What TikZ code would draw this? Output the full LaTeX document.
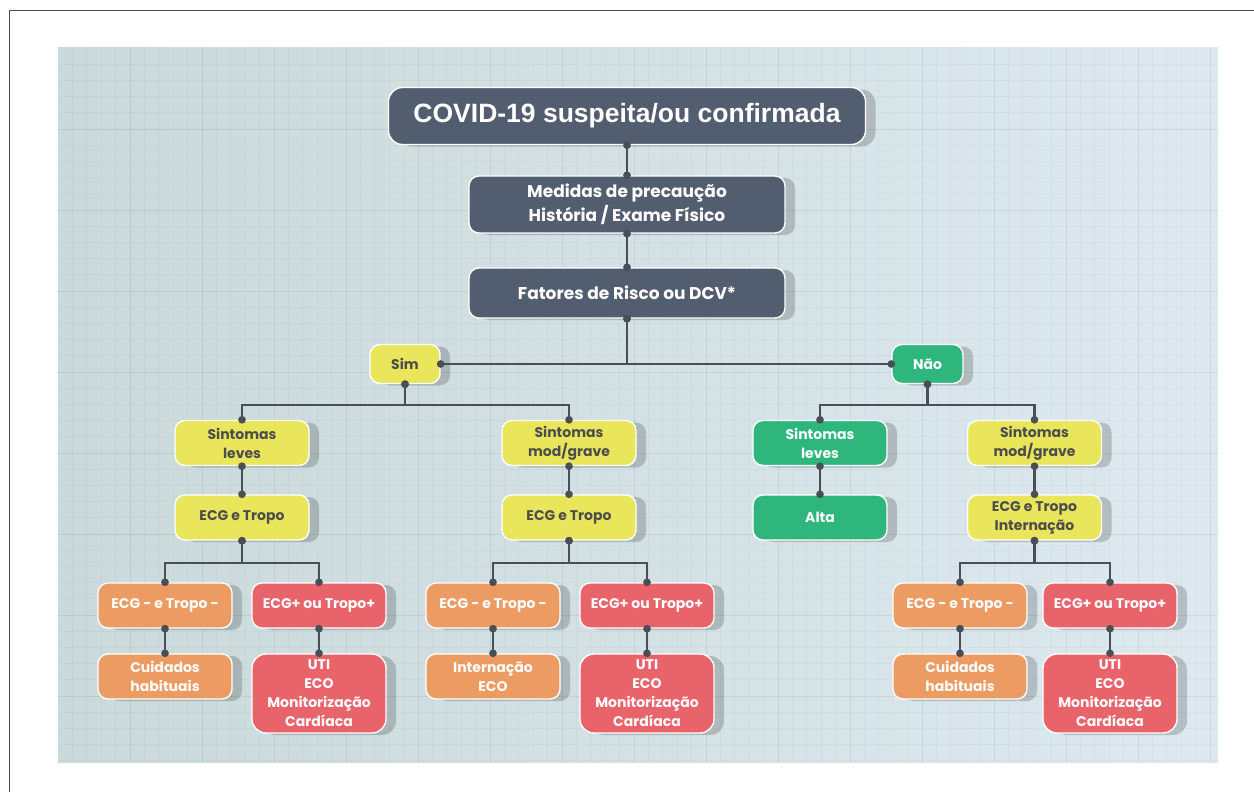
\documentclass[tikz,border=0pt]{standalone}
\usepackage{fontspec}
\setmainfont{Poppins}
\newfontfamily\titlefont{Liberation Sans}
\usetikzlibrary{arrows.meta,shadows}

\definecolor{slate}{HTML}{525E70}
\definecolor{limeyel}{HTML}{E9E65C}
\definecolor{mint}{HTML}{2EB67D}
\definecolor{peach}{HTML}{EC9B63}
\definecolor{coral}{HTML}{E9636B}
\definecolor{wire}{HTML}{4A4F57}
\definecolor{darktext}{HTML}{4D4D4D}
\definecolor{panelL}{HTML}{CAD9DA}
\definecolor{panelR}{HTML}{DDE9EF}

\tikzset{
  box/.style={draw=white, line width=1.4pt, rounded corners=10pt, align=center,
    inner sep=0pt, text=white, font=\fontsize{14}{19}\selectfont\bfseries,
    minimum width=134pt, minimum height=45pt,
    drop shadow={shadow xshift=10pt, shadow yshift=-2pt, opacity=0.18, fill=black}},
  headbox/.style={box, fill=slate, minimum width=316pt, font=\fontsize{17}{24}\selectfont\bfseries},
  yesbox/.style={box, fill=limeyel, text=darktext},
  nobox/.style={box, fill=mint},
  negbox/.style={box, fill=peach},
  posbox/.style={box, fill=coral},
  link/.style={draw=wire, line width=2.4pt,
    {Circle[length=7.5pt]}-{Circle[length=7.5pt]},
    shorten <=-3.75pt, shorten >=-3.75pt},
  minorline/.style={black, opacity=0.025, line width=0.8pt},
  majorline/.style={black, opacity=0.045, line width=1pt},
}

\begin{document}
\begin{tikzpicture}[x=1pt,y=-1pt]
  \useasboundingbox (0,0) rectangle (1254,792);
  % frame and panel
  \draw[black!70, line width=1pt] (9.5,792) -- (9.5,11) -- (1254,11);
  \shade[left color=panelL, right color=panelR] (58,48) rectangle (1218,762);
  % grid
  \foreach \i in {1,...,80} {
    \draw[minorline] ({58+14.4*\i},48) -- ({58+14.4*\i},762);
  }
  \foreach \i in {1,...,44} {
    \draw[minorline] (58,{48+16.2*\i}) -- (1218,{48+16.2*\i});
  }
  \foreach \i in {1,...,16} {
    \draw[majorline] ({58+72*\i},48) -- ({58+72*\i},762);
  }
  \foreach \i in {1,...,8} {
    \draw[majorline] (58,{48+81*\i}) -- (1218,{48+81*\i});
  }

  % top of the chart
  \node[box, fill=slate, minimum width=477pt, minimum height=57pt, rounded corners=14pt,
    font=\titlefont\fontsize{26.5}{30}\selectfont\bfseries] (covid) at (627,116) {COVID-19 suspeita/ou confirmada};
  \node[headbox, minimum height=57pt] (medidas) at (627,204.5) {Medidas de precaução\\História / Exame Físico};
  \node[headbox, minimum height=50pt] (fatores) at (627,293) {Fatores de Risco ou DCV*};
  \node[yesbox, minimum width=70pt, minimum height=39pt] (sim) at (405,364) {Sim};
  \node[nobox, minimum width=71pt, minimum height=39pt] (nao) at (927.5,364) {Não};

  % Sim side
  \node[yesbox] (simLeves) at (242,443) {Sintomas\\leves};
  \node[yesbox] (simGrave) at (569,443) {Sintomas\\mod/grave};
  \node[yesbox] (simLevesEcg) at (242,517.5) {ECG e Tropo};
  \node[yesbox] (simGraveEcg) at (569,517.5) {ECG e Tropo};
  \node[negbox] (lNeg) at (165,605.5) {ECG - e Tropo -};
  \node[posbox] (lPos) at (319,605.5) {ECG+ ou Tropo+};
  \node[negbox] (lCuid) at (165,676.5) {Cuidados\\habituais};
  \node[posbox, minimum height=79pt, rounded corners=14pt] (lUti) at (319,693.5) {UTI\\ECO\\Monitorização\\Cardíaca};
  \node[negbox] (mNeg) at (493,605.5) {ECG - e Tropo -};
  \node[posbox] (mPos) at (647,605.5) {ECG+ ou Tropo+};
  \node[negbox] (mInt) at (493,676.5) {Internação\\ECO};
  \node[posbox, minimum height=79pt, rounded corners=14pt] (mUti) at (647,693.5) {UTI\\ECO\\Monitorização\\Cardíaca};

  % Nao side
  \node[nobox] (naoLeves) at (820,443) {Sintomas\\leves};
  \node[yesbox] (naoGrave) at (1034.5,443) {Sintomas\\mod/grave};
  \node[nobox] (alta) at (820,517.5) {Alta};
  \node[yesbox] (naoGraveEcg) at (1034.5,517.5) {ECG e Tropo\\Internação};
  \node[negbox] (rNeg) at (960,605.5) {ECG - e Tropo -};
  \node[posbox] (rPos) at (1110,605.5) {ECG+ ou Tropo+};
  \node[negbox] (rCuid) at (960,676.5) {Cuidados\\habituais};
  \node[posbox, minimum height=79pt, rounded corners=14pt] (rUti) at (1110,693.5) {UTI\\ECO\\Monitorização\\Cardíaca};

  % connectors
  \draw[link] (covid) -- (medidas);
  \draw[link] (medidas) -- (fatores);
  \draw[link] (fatores.south) |- (sim.east);
  \draw[link] (fatores.south) |- (nao.west);
  \draw[link] (sim.south) -- ++(0,21) -| (simLeves.north);
  \draw[link] (sim.south) -- ++(0,21) -| (simGrave.north);
  \draw[link] (nao.south) -- ++(0,21) -| (naoLeves.north);
  \draw[link] (nao.south) -- ++(0,21) -| (naoGrave.north);
  \draw[link] (simLeves) -- (simLevesEcg);
  \draw[link] (simGrave) -- (simGraveEcg);
  \draw[link] (naoLeves) -- (alta);
  \draw[link] (naoGrave) -- (naoGraveEcg);
  \draw[link] (simLevesEcg.south) -- ++(0,22) -| (lNeg.north);
  \draw[link] (simLevesEcg.south) -- ++(0,22) -| (lPos.north);
  \draw[link] (simGraveEcg.south) -- ++(0,22) -| (mNeg.north);
  \draw[link] (simGraveEcg.south) -- ++(0,22) -| (mPos.north);
  \draw[link] (naoGraveEcg.south) -- ++(0,22) -| (rNeg.north);
  \draw[link] (naoGraveEcg.south) -- ++(0,22) -| (rPos.north);
  \draw[link] (lNeg) -- (lCuid);
  \draw[link] (lPos) -- (lUti);
  \draw[link] (mNeg) -- (mInt);
  \draw[link] (mPos) -- (mUti);
  \draw[link] (rNeg) -- (rCuid);
  \draw[link] (rPos) -- (rUti);
\end{tikzpicture}
\end{document}
